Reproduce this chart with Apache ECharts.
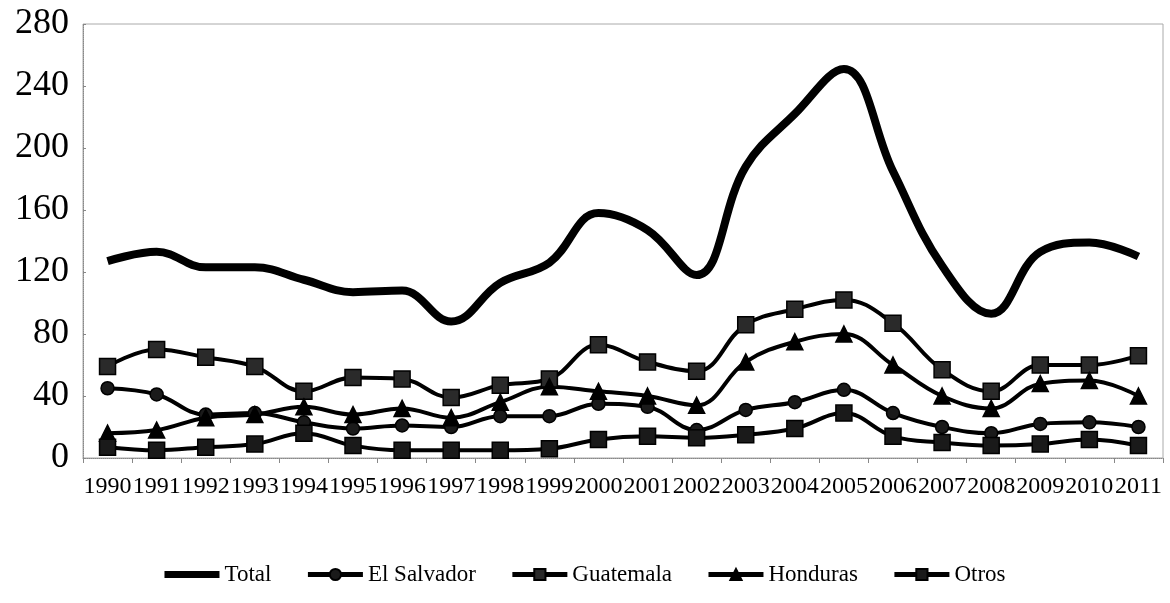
<!DOCTYPE html>
<html>
<head>
<meta charset="utf-8">
<script src="https://cdn.jsdelivr.net/npm/echarts@6/dist/echarts.min.js"></script>
<style>
  html, body { margin: 0; padding: 0; background: #fff; }
  #chart { width: 1170px; height: 603px; }
</style>
</head>
<body>
<div id="chart"></div>
<script>
const years = ['1990', '1991', '1992', '1993', '1994', '1995', '1996', '1997', '1998', '1999', '2000',
  '2001', '2002', '2003', '2004', '2005', '2006', '2007', '2008', '2009', '2010', '2011'];

const total = [127, 133, 123, 123, 115, 107, 108, 88, 113, 126, 158,
  147, 118, 188, 222, 251, 185, 124, 93, 133, 139, 130];
const elSalvador = [45, 41, 28, 29, 23, 19, 21, 20, 27, 27, 35,
  33, 18, 31, 36, 44, 29, 20, 16, 22, 23, 20];
const guatemala = [59, 70, 65, 59, 43, 52, 51, 39, 47, 51, 73,
  62, 56, 86, 96, 102, 87, 57, 43, 60, 60, 66];
const honduras = [16, 18, 26, 28, 33, 28, 32, 26, 36, 46, 43,
  40, 34, 62, 75, 80, 60, 40, 32, 48, 50, 40];
const otros = [7, 5, 7, 9, 16, 8, 5, 5, 5, 6, 12,
  14, 13, 15, 19, 29, 14, 10, 8, 9, 12, 8];

const serif = '"Liberation Serif", "DejaVu Serif", serif';

let chartDom = document.getElementById('chart');
let myChart = echarts.init(chartDom);
let option;

function markerSeries(name, data, symbol, size, fill) {
  return {
    name,
    type: 'line',
    smooth: 0.4,
    symbol,
    symbolSize: size,
    showAllSymbol: true,
    lineStyle: { color: '#000', width: 4 },
    itemStyle: { color: fill, borderColor: '#000', borderWidth: 1.5 },
    data
  };
}

// thick bar for the Total legend entry (tiny end points keep the 55x14 box)
const thickLine = 'path://M0,0L0.01,0L0.01,0.01Z M0,3.5L55,3.5L55,10.5L0,10.5Z M0,14L0.01,14L0.01,13.99Z';

option = {
  animation: false,
  backgroundColor: '#fff',
  grid: {
    left: 83,
    right: 7,
    top: 24,
    bottom: 145,
    show: true,
    borderColor: '#aaa',
    borderWidth: 1
  },
  legend: {
    bottom: 12,
    left: 'center',
    itemWidth: 55,
    itemHeight: 14,
    itemGap: 34,
    textStyle: { fontFamily: serif, fontSize: 23, color: '#000' },
    data: [
      { name: 'Total', icon: thickLine, itemStyle: { color: '#000' } },
      { name: 'El Salvador', lineStyle: { width: 5 } },
      { name: 'Guatemala', lineStyle: { width: 5 } },
      { name: 'Honduras', lineStyle: { width: 5 } },
      { name: 'Otros', lineStyle: { width: 5 } }
    ]
  },
  xAxis: {
    type: 'category',
    data: years,
    boundaryGap: true,
    axisLine: { lineStyle: { color: '#888', type: 'dotted', width: 1 } },
    axisTick: { show: true, length: 5, lineStyle: { color: '#888' } },
    axisLabel: {
      interval: 0,
      margin: 17,
      fontFamily: serif,
      fontSize: 24,
      color: '#000'
    }
  },
  yAxis: {
    type: 'value',
    min: 0,
    max: 280,
    interval: 40,
    axisLine: { show: true, lineStyle: { color: '#888', type: 'dotted', width: 1 } },
    axisTick: { show: true, length: 3, inside: true, lineStyle: { color: '#888' } },
    splitLine: { show: false },
    axisLabel: {
      margin: 14,
      fontFamily: serif,
      fontSize: 36,
      color: '#000'
    }
  },
  series: [
    {
      name: 'Total',
      type: 'line',
      smooth: 0.4,
      symbol: 'none',
      lineStyle: { color: '#000', width: 8 },
      itemStyle: { color: '#000' },
      data: total
    },
    markerSeries('El Salvador', elSalvador, 'circle', 13, '#1a1a1a'),
    markerSeries('Guatemala', guatemala, 'rect', 16, '#2a2a2a'),
    markerSeries('Honduras', honduras, 'triangle', 16, '#000'),
    markerSeries('Otros', otros, 'rect', 16, '#1a1a1a')
  ]
};

option && myChart.setOption(option);
</script>
</body>
</html>
